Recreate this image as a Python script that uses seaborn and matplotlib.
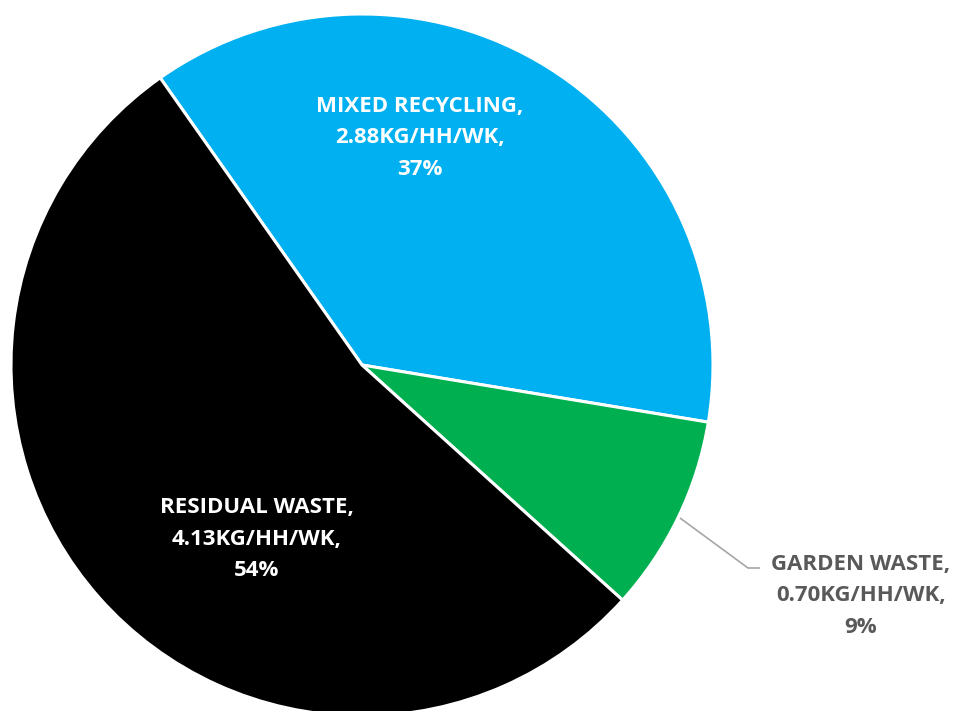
import matplotlib
matplotlib.use("Agg")
import matplotlib.pyplot as plt
import seaborn as sns

categories = ["MIXED RECYCLING", "GARDEN WASTE", "RESIDUAL WASTE"]
values = [2.88, 0.70, 4.13]
colors = ["#00B0F0", "#00B050", "#000000"]

sns.set_theme(style="white")
plt.rcParams['font.family'] = ['Open Sans', 'DejaVu Sans']

W, H = 956, 711
fig = plt.figure(figsize=(W / 100, H / 100), dpi=100)
ax = fig.add_axes([0, 0, 1, 1])

cx, cy, r = 362, H - 365, 351
total = sum(values)
ax.pie(values, colors=colors, startangle=125.1, counterclock=False,
       center=(cx, cy), radius=r, frame=True,
       wedgeprops=dict(edgecolor='white', linewidth=2.2))
ax.set_xlim(0, W)
ax.set_ylim(0, H)
ax.set_aspect('equal')
ax.axis('off')

label_pos = [(420, H - 138), (861, H - 596), (257, H - 539)]
label_col = ['white', '#595959', 'white']
for cat, v, pos, col in zip(categories, values, label_pos, label_col):
    pct = round(v / total * 100)
    ax.text(pos[0], pos[1], f"{cat},\n{v:.2f}KG/HH/WK,\n{pct}%",
            ha='center', va='center', color=col, fontsize=16,
            fontweight='bold', linespacing=1.68)

# leader line for garden waste
ax.plot([680, 748, 760], [H - 518, H - 568, H - 568], color='#A6A6A6', lw=1.2,
        solid_capstyle='butt')

fig.savefig("out.png", dpi=100)
